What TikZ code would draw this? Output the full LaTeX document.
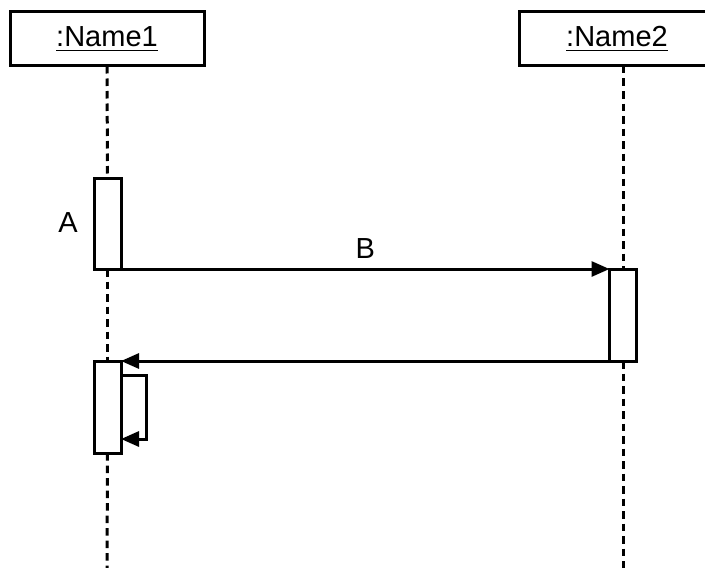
\documentclass[tikz,border=0pt]{standalone}
\usepackage{fontspec}
\setmainfont{Liberation Sans}
\usepackage{tikz}
\usetikzlibrary{arrows.meta}
\tikzstyle{object}=[draw, line width=1.5pt, fill=white, minimum height=27pt, inner sep=0pt, outer sep=0pt]
\tikzstyle{activation}=[draw, line width=1.5pt, fill=white, minimum width=13.5pt, inner sep=0pt, outer sep=0pt]
\tikzstyle{lifeline}=[line width=1.5pt, dash pattern=on 3.75pt off 2.5pt]
\tikzstyle{msg}=[line width=1.5pt, -{Triangle[length=9pt, width=7.5pt]}]

\begin{document}
\begin{tikzpicture}[x=0.5pt, y=-0.5pt, font=\fontsize{14.5}{17}\selectfont]
        \clip (0,0) rectangle (705,567);
        \node[object, minimum width=97pt] (name1) at (107,39) {\underline{:Name1}};
        \node[object, minimum width=98pt] (name2) at (617,39) {\underline{:Name2}};
        \node[activation, minimum height=45.5pt] (actA) at (107.5,223.5) {};
        \node[activation, minimum height=46pt] (actB) at (623,315) {};
        \node[activation, minimum height=46pt] (actC) at (107.5,407) {};
        \coordinate (end1) at (107,570);
        \coordinate (end2) at (623,570);
        \draw[lifeline] (name1.south) -- (actA.north);
        \draw[lifeline] (actA.south) -- (actC.north);
        \draw[lifeline] (actC.south) -- (end1);
        \draw[lifeline] (actB |- name2.south) -- (actB.north);
        \draw[lifeline] (actB.south) -- (end2);
        \node (labA) at (68,223) {A};
        \draw[msg] (actA.south east) -- (actB.north west) node[midway, above=1pt] (labB) {B};
        \draw[msg] (actB.south west) -- (actC.north east);
        \draw[msg] ([yshift=-7pt]actC.north east) -- ++(25,0) |- ([yshift=7pt]actC.south east);
    \end{tikzpicture}
\end{document}
